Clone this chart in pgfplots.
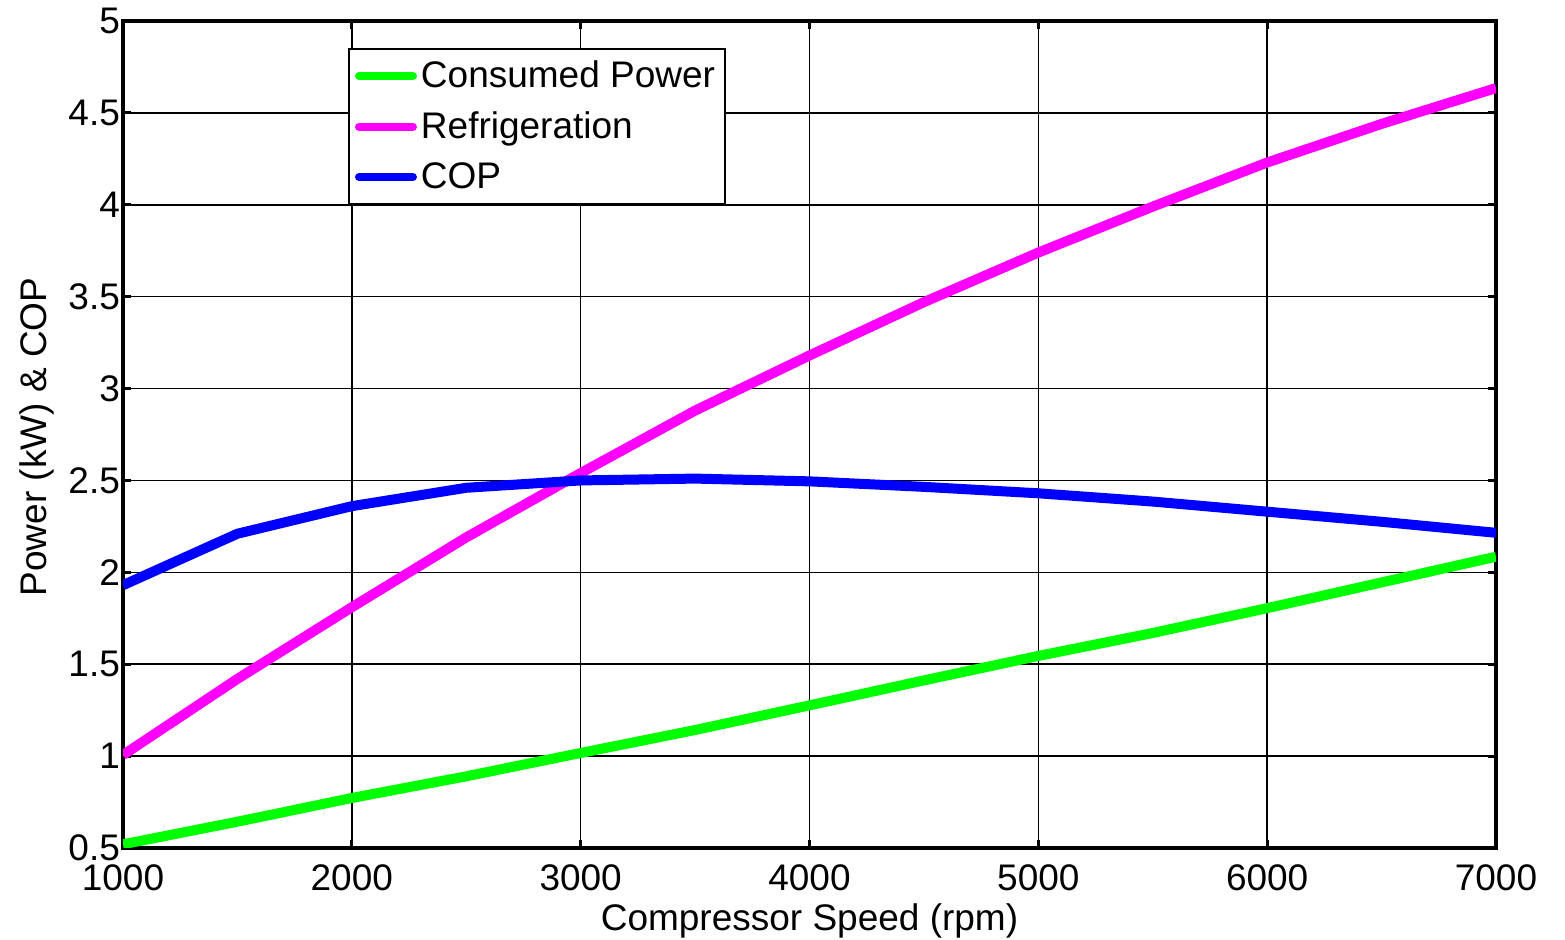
\documentclass[border=0pt]{standalone}
\usepackage{pgfplots}
\pgfplotsset{compat=1.18}
\usepackage{fontspec}
\setmainfont{Liberation Sans}
\definecolor{mgreen}{RGB}{0,255,0}
\definecolor{mmag}{RGB}{255,0,255}
\definecolor{mblue}{RGB}{0,0,255}
\begin{document}
\begin{tikzpicture}
\path[use as bounding box] (-61.5pt,-46pt) rectangle (721pt,424pt);
\begin{axis}[
  at={(0pt,0pt)}, anchor=south west,
  scale only axis, width=686.5pt, height=413.5pt,
  xmin=1000, xmax=7000, ymin=0.5, ymax=5,
  xtick={1000,2000,...,7000}, ytick={0.5,1,...,5},
  grid=major, major grid style={black, line width=0.8pt},
  axis line style={black, line width=2pt},
  tick style={black, line width=1.5pt}, major tick length=4pt, tick align=inside,
  ticklabel style={font=\fontsize{18.5}{20}\selectfont},
  /pgf/number format/assume math mode=true, /pgf/number format/1000 sep={},
  xlabel={Compressor Speed (rpm)}, ylabel={Power (kW) \& COP},
  label style={font=\fontsize{18.5}{20}\selectfont},
  xlabel style={at={(axis description cs:0.5,0)}, anchor=center, yshift=-36.5pt},
  ylabel style={at={(axis description cs:-0.0626,0.497)}, anchor=center},
  xticklabel style={yshift=-5pt},
  yticklabel style={xshift=2pt},
  legend style={at={(rel axis cs:0.164,0.967)}, anchor=north west, draw=black, line width=0.8pt,
    font=\fontsize{18.5}{20}\selectfont, row sep=6.5pt, inner xsep=3pt, inner ysep=4pt},
  legend cell align=left,
  legend image code/.code={\draw[#1, line width=4pt, line cap=round] (0pt,0pt) -- (27pt,0pt);},
]
\addplot[mgreen, line width=5pt, line join=round] coordinates {
(1000,0.52) (1500,0.643) (2000,0.772) (2500,0.89) (3000,1.017) (3500,1.142) (4000,1.276)
(4500,1.412) (5000,1.545) (5500,1.67) (6000,1.805) (6500,1.945) (7000,2.085)};
\addlegendentry{Consumed Power}
\addplot[mmag, line width=5pt, line join=round] coordinates {
(1000,1.006) (1500,1.42) (2000,1.81) (2500,2.19) (3000,2.54) (3500,2.88) (4000,3.18)
(4500,3.47) (5000,3.74) (5500,3.99) (6000,4.23) (6500,4.44) (7000,4.635)};
\addlegendentry{Refrigeration}
\addplot[mblue, line width=5pt, line join=round] coordinates {
(1000,1.93) (1500,2.21) (2000,2.36) (2500,2.46) (3000,2.50) (3500,2.51) (4000,2.495)
(4500,2.465) (5000,2.43) (5500,2.385) (6000,2.33) (6500,2.275) (7000,2.215)};
\addlegendentry{COP}
\end{axis}
\end{tikzpicture}
\end{document}
